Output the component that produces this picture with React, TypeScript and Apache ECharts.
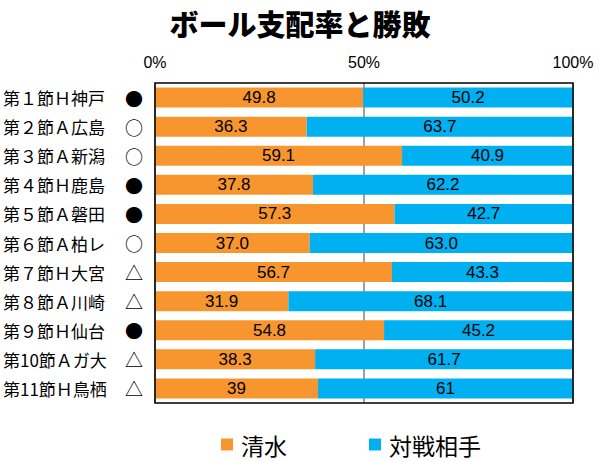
import React, { useEffect, useRef } from "react";
import * as echarts from "echarts";

const categories = [
  "第１節Ｈ神戸",
  "第２節Ａ広島",
  "第３節Ａ新潟",
  "第４節Ｈ鹿島",
  "第５節Ａ磐田",
  "第６節Ａ柏レ",
  "第７節Ｈ大宮",
  "第８節Ａ川崎",
  "第９節Ｈ仙台",
  "第10節Ａガ大",
  "第11節Ｈ鳥栖",
];
const results = ["●", "○", "○", "●", "●", "○", "△", "△", "●", "△", "△"];
const shimizu = [49.8, 36.3, 59.1, 37.8, 57.3, 37.0, 56.7, 31.9, 54.8, 38.3, 39];
const opponent = [50.2, 63.7, 40.9, 62.2, 42.7, 63.0, 43.3, 68.1, 45.2, 61.7, 61];
const shimizuLabels = ["49.8", "36.3", "59.1", "37.8", "57.3", "37.0", "56.7", "31.9", "54.8", "38.3", "39"];
const opponentLabels = ["50.2", "63.7", "40.9", "62.2", "42.7", "63.0", "43.3", "68.1", "45.2", "61.7", "61"];
const xTicks = [0, 50, 100];

const FONT = "'Liberation Sans', Arial, 'Noto Sans CJK JP', sans-serif";
const CJK = "'Noto Sans CJK JP', sans-serif";

export default function App() {
  const ref = useRef<HTMLDivElement>(null);
  useEffect(() => {
    if (!ref.current) return;
    const chart = echarts.init(ref.current, null, { renderer: "svg" });
    chart.setOption({
      animation: false,
      backgroundColor: "#ffffff",
      title: {
        text: "ボール支配率と勝敗",
        left: "center",
        top: 3,
        textStyle: { fontFamily: CJK, fontSize: 29, fontWeight: 900, color: "#000" },
      },
      legend: {
        left: 221,
        top: 433,
        icon: "rect",
        itemWidth: 12,
        itemHeight: 12,
        itemGap: 82,
        textStyle: { fontFamily: CJK, fontSize: 23, lineHeight: 23, color: "#000", padding: [0, 0, 0, 3] },
        padding: 0,
        data: ["清水", "対戦相手"],
      },
      grid: {
        left: 154,
        right: 27,
        top: 83,
        bottom: 58,
        show: true,
        z: 3,
        borderColor: "#000",
        borderWidth: 1.5,
        backgroundColor: "transparent",
      },
      xAxis: {
        type: "value",
        position: "top",
        min: 0,
        max: 100,
        interval: 50,
        axisLine: { show: false },
        axisTick: { show: false },
        axisLabel: {
          margin: 13,
          fontFamily: FONT,
          fontSize: 16,
          color: "#000",
          formatter: (v: number) => (xTicks.includes(v) ? v + "%" : ""),
        },
        splitLine: { show: true, lineStyle: { color: "#808080", width: 1.5 } },
      },
      yAxis: {
        type: "category",
        inverse: true,
        data: categories,
        axisLine: { show: false },
        axisTick: { show: false },
        axisLabel: {
          margin: 10,
          formatter: (v: string, i: number) => `{n|${v}}{s|${results[i]}}`,
          rich: {
            n: { width: 120, align: "left", fontFamily: CJK, fontSize: 17, color: "#000" },
            s: { width: 22, align: "center", fontFamily: CJK, fontSize: 18, color: "#000" },
          },
        },
      },
      series: [
        {
          name: "清水",
          type: "bar",
          stack: "a",
          barWidth: 20,
          itemStyle: { color: "#F7962F" },
          label: {
            show: true,
            position: "inside",
            color: "#000",
            fontFamily: FONT,
            fontSize: 17,
            formatter: (p: any) => shimizuLabels[p.dataIndex],
          },
          data: shimizu,
        },
        {
          name: "対戦相手",
          type: "bar",
          stack: "a",
          barWidth: 20,
          itemStyle: { color: "#00B0F0" },
          label: {
            show: true,
            position: "inside",
            color: "#000",
            fontFamily: FONT,
            fontSize: 17,
            formatter: (p: any) => opponentLabels[p.dataIndex],
          },
          data: opponent,
        },
      ],
    });
    return () => chart.dispose();
  }, []);
  return <div ref={ref} style={{ width: 600, height: 461, position: "absolute", left: 0, top: 0 }} />;
}
